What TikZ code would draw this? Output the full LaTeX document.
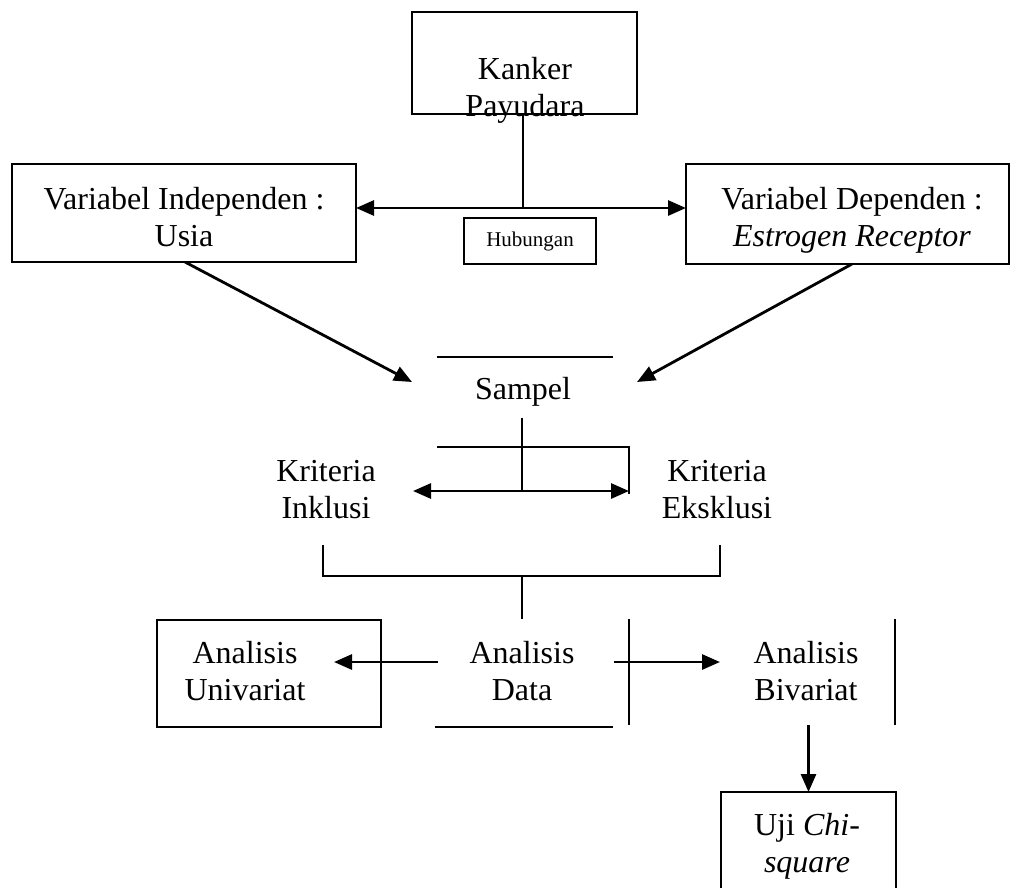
\documentclass[tikz,border=0pt]{standalone}
\usepackage{fontspec}
\setmainfont{Liberation Serif}
\usetikzlibrary{arrows.meta}
\begin{document}
\begin{tikzpicture}[x=1pt,y=-1pt,
  box/.style={draw, line width=2.4pt, inner sep=0pt, outer sep=0pt},
  ln/.style={line width=2.4pt},
  arr/.style={line width=2.8pt, -{Triangle[length=18pt,width=15pt]}},
  darr/.style={line width=2.8pt, {Triangle[length=18pt,width=15pt]}-{Triangle[length=18pt,width=15pt]}},
  txt/.style={font=\fontsize{32}{36.5}\selectfont, align=center, anchor=base, inner sep=0pt},
  small/.style={font=\fontsize{21}{24}\selectfont, inner sep=0pt},
]
\useasboundingbox (0,0) rectangle (1011,887);

% boxes
\node[box, minimum width=225pt, minimum height=102pt] (kanker) at (524.5,63) {};
\node[box, minimum width=344pt, minimum height=98pt] (indep) at (184,213) {};
\node[box, minimum width=323pt, minimum height=100pt] (dep) at (847.5,214) {};
\node[box, minimum width=132pt, minimum height=46pt, small] (hub) at (530,241) {Hubungan};
\node[box, minimum width=224pt, minimum height=107pt] (univ) at (269,673.5) {};
\node[box, minimum width=175pt, minimum height=110pt] (uji) at (808.5,847) {};

% texts (anchor = baseline of the last line)
\node[txt] (kankert) at (525,116) {Kanker\\Payudara};
\node[txt] (indept) at (184,246) {Variabel Independen :\\Usia};
\node[txt] (dept) at (852,246) {Variabel Dependen :\\\textit{Estrogen Receptor}};
\node[txt] (sampel) at (523,399) {Sampel};
\node[txt] (inkl) at (326,518) {Kriteria\\Inklusi};
\node[txt] (eksk) at (717,518) {Kriteria\\Eksklusi};
\node[txt] (univt) at (245,700) {Analisis\\Univariat};
\node[txt] (data) at (522,700) {Analisis\\Data};
\node[txt] (biv) at (806,700) {Analisis\\Bivariat};
\node[txt] (ujit) at (807,872) {Uji \textit{Chi-}\\\textit{square}};

% coordinates
\coordinate (hubtop) at (523,208);
\coordinate (indepout) at (185,262);
\coordinate (depout) at (852,264);
\coordinate (sampL) at (412,382);
\coordinate (sampR) at (637,382);
\coordinate (s1) at (437,357);
\coordinate (s2) at (613,357);
\coordinate (v1a) at (522,418);
\coordinate (v1b) at (522,491);
\coordinate (k1) at (437,447);
\coordinate (k2) at (629,447);
\coordinate (k3) at (629,494);
\coordinate (kL) at (413,491);
\coordinate (kR) at (629,491);
\coordinate (b1) at (323,545);
\coordinate (b2) at (323,576);
\coordinate (b3) at (720,576);
\coordinate (b4) at (720,545);
\coordinate (v2) at (522,619);
\coordinate (dL) at (438,662);
\coordinate (uR) at (334,662);
\coordinate (dR) at (614,662);
\coordinate (bL) at (720,662);
\coordinate (d1) at (435,727);
\coordinate (d2) at (613,727);
\coordinate (p1a) at (629,619);
\coordinate (p1b) at (629,725);
\coordinate (p2a) at (895,619);
\coordinate (p2b) at (895,725);
\coordinate (bivout) at (807,725);

% connectors
\draw[ln] (kanker.south -| hubtop) -- (hubtop);
\draw[darr] (indep.east |- hubtop) -- (dep.west |- hubtop);
\draw[arr] (indepout) -- (sampL);
\draw[arr] (depout) -- (sampR);
\draw[ln] (s1) -- (s2);
\draw[ln] (v1a) -- (v1b);
\draw[ln] (k1) -- (k2) -- (k3);
\draw[darr] (kR) -- (kL);
\draw[ln] (b1) -- (b2) -- (b3) -- (b4);
\draw[ln] (b2 -| v1a) -- (v2);
\draw[arr] (dL) -- (uR);
\draw[arr] (dR) -- (bL);
\draw[ln] (d1) -- (d2);
\draw[ln] (p1a) -- (p1b);
\draw[ln] (p2a) -- (p2b);
\draw[arr] (bivout -| uji.north) -- (uji.north);
\end{tikzpicture}
\end{document}
